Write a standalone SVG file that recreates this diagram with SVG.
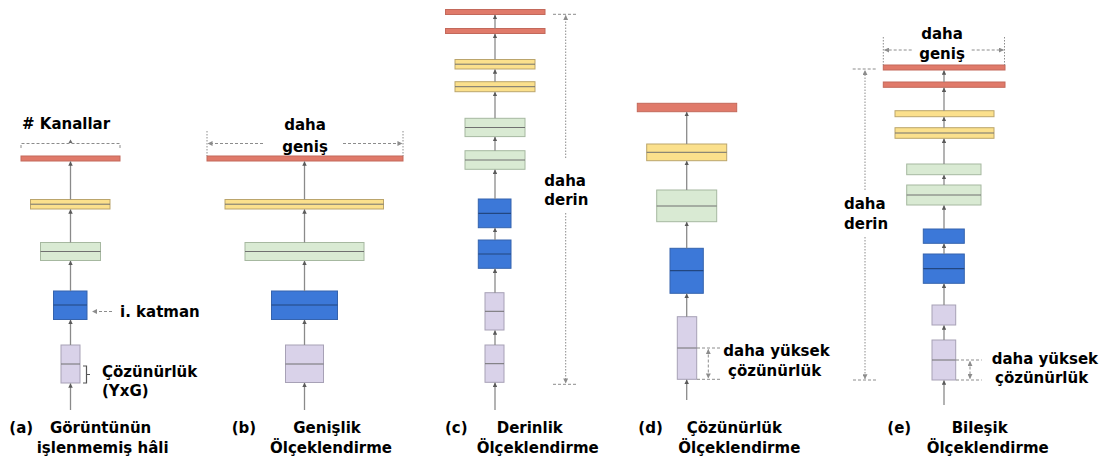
<svg xmlns="http://www.w3.org/2000/svg" width="1108" height="457" viewBox="0 0 1108 457">
  <defs>
    <marker id="tip" viewBox="0 0 6 6" refX="5.5" refY="3" markerWidth="4.5" markerHeight="4.5" orient="auto" markerUnits="userSpaceOnUse">
      <path d="M0,0 L6,3 L0,6 z" fill="#5a5a5a"/>
    </marker>
    <marker id="tipLight" viewBox="0 0 6 6" refX="5.5" refY="3" markerWidth="5" markerHeight="5" orient="auto-start-reverse" markerUnits="userSpaceOnUse">
      <path d="M0,0 L6,3 L0,6 z" fill="#8c8c8c"/>
    </marker>
  </defs>
  <style>
    rect { stroke-width: 1; }
    .red { fill: #e07a6a; stroke: #c3695b; }
    .yel { fill: #fbe08c; stroke: #bba56c; }
    .grn { fill: #d9ead3; stroke: #a6b8a0; }
    .blu { fill: #3c78d8; stroke: #3563ad; }
    .pur { fill: #d9d2e9; stroke: #a7a1b6; }
    .mid { stroke: #707070; stroke-width: 1; fill: none; }
    .midb { stroke: #22467f; stroke-width: 1.2; fill: none; }
    .conn line { stroke: #8a8a8a; stroke-width: 1.3; marker-end: url(#tip); }
    .dash { stroke: #8c8c8c; stroke-width: 1; stroke-dasharray: 3 2; fill: none; }
    .dot { stroke: #8c8c8c; stroke-width: 1; stroke-dasharray: 1.5 1.5; fill: none; }
    .lbl { font-family: "DejaVu Sans", Verdana, sans-serif; font-weight: bold; font-size: 15px; fill: #000; }
  </style>

  <!-- (a) baseline network -->
  <g id="col-a">
    <rect class="red" x="21" y="156" width="99" height="5"/>
    <rect class="yel" x="30.5" y="199.5" width="79.5" height="9.5"/>
    <line class="mid" x1="30.5" y1="204.2" x2="110" y2="204.2"/>
    <rect class="grn" x="40.5" y="242.5" width="60" height="18"/>
    <line class="mid" x1="40.5" y1="251.5" x2="100.5" y2="251.5"/>
    <rect class="blu" x="53.5" y="291" width="33.5" height="28.5"/>
    <line class="midb" x1="53.5" y1="305" x2="87" y2="305"/>
    <rect class="pur" x="61" y="345" width="19" height="38"/>
    <line class="mid" x1="61" y1="364" x2="80" y2="364"/>
  </g>

  <!-- (b) wider -->
  <g id="col-b">
    <rect class="red" x="207" y="156" width="196" height="5"/>
    <rect class="yel" x="225" y="199.5" width="158.5" height="9.5"/>
    <line class="mid" x1="225" y1="204.2" x2="383.5" y2="204.2"/>
    <rect class="grn" x="245" y="242.5" width="119" height="18"/>
    <line class="mid" x1="245" y1="251.5" x2="364" y2="251.5"/>
    <rect class="blu" x="271.5" y="291" width="66" height="28.5"/>
    <line class="midb" x1="271.5" y1="305" x2="337.5" y2="305"/>
    <rect class="pur" x="285.5" y="345" width="38" height="37.5"/>
    <line class="mid" x1="285.5" y1="364" x2="323.5" y2="364"/>
  </g>

  <!-- (c) deeper -->
  <g id="col-c">
    <rect class="red" x="445.5" y="9.5" width="99.5" height="5"/>
    <rect class="red" x="445.5" y="28.5" width="99.5" height="5"/>
    <rect class="yel" x="455" y="59.5" width="80" height="9.5"/>
    <line class="mid" x1="455" y1="64.2" x2="535" y2="64.2"/>
    <rect class="yel" x="455" y="81.7" width="80" height="10"/>
    <line class="mid" x1="455" y1="86.7" x2="535" y2="86.7"/>
    <rect class="grn" x="465" y="118.3" width="60" height="18.3"/>
    <line class="mid" x1="465" y1="127.5" x2="525" y2="127.5"/>
    <rect class="grn" x="465" y="150.7" width="60" height="18.6"/>
    <line class="mid" x1="465" y1="160" x2="525" y2="160"/>
    <rect class="blu" x="478.3" y="199" width="32.7" height="28.7"/>
    <line class="midb" x1="478.3" y1="213.3" x2="511" y2="213.3"/>
    <rect class="blu" x="478.3" y="240" width="32.7" height="28.3"/>
    <line class="midb" x1="478.3" y1="254" x2="511" y2="254"/>
    <rect class="pur" x="485" y="292.7" width="19" height="37.3"/>
    <line class="mid" x1="485" y1="311.3" x2="504" y2="311.3"/>
    <rect class="pur" x="485" y="345" width="19" height="37.3"/>
    <line class="mid" x1="485" y1="363.7" x2="504" y2="363.7"/>
  </g>

  <!-- (d) higher resolution -->
  <g id="col-d">
    <rect class="red" x="637.3" y="103.3" width="99.4" height="8.4"/>
    <rect class="yel" x="646.7" y="144" width="80" height="16.7"/>
    <line class="mid" x1="646.7" y1="152.3" x2="726.7" y2="152.3"/>
    <rect class="grn" x="656.7" y="190" width="60" height="31.7"/>
    <line class="mid" x1="656.7" y1="206" x2="716.7" y2="206"/>
    <rect class="blu" x="670" y="248.3" width="33.3" height="45"/>
    <line class="midb" x1="670" y1="270.7" x2="703.3" y2="270.7"/>
    <rect class="pur" x="677.3" y="316.7" width="19.4" height="62.6"/>
    <line class="mid" x1="677.3" y1="348" x2="696.7" y2="348"/>
  </g>

  <!-- (e) compound -->
  <g id="col-e">
    <rect class="red" x="883.3" y="65" width="121.7" height="5"/>
    <rect class="red" x="883.3" y="82" width="121.7" height="5.3"/>
    <rect class="yel" x="895" y="110.7" width="99" height="6"/>
    <rect class="yel" x="895" y="127.7" width="99" height="10.6"/>
    <line class="mid" x1="895" y1="133" x2="994" y2="133"/>
    <rect class="grn" x="906.7" y="164" width="74.3" height="10.7"/>
    <rect class="grn" x="906.7" y="185" width="74.3" height="20"/>
    <line class="mid" x1="906.7" y1="195" x2="981" y2="195"/>
    <rect class="blu" x="923.3" y="229" width="41" height="14.3"/>
    <rect class="blu" x="923.3" y="254" width="41" height="29.3"/>
    <line class="midb" x1="923.3" y1="268.7" x2="964.3" y2="268.7"/>
    <rect class="pur" x="932" y="305" width="23.7" height="20"/>
    <rect class="pur" x="932" y="340" width="23.7" height="40"/>
    <line class="mid" x1="932" y1="360" x2="955.7" y2="360"/>
  </g>

  <!-- data flow between layers -->
  <g id="connectors" class="conn">
    <line x1="70.5" y1="410" x2="70.5" y2="383.5"/>
    <line x1="70.5" y1="345" x2="70.5" y2="320"/>
    <line x1="70.5" y1="291" x2="70.5" y2="261"/>
    <line x1="70.5" y1="242.5" x2="70.5" y2="209.5"/>
    <line x1="70.5" y1="199.5" x2="70.5" y2="161.5"/>

    <line x1="304.5" y1="410" x2="304.5" y2="383"/>
    <line x1="304.5" y1="345" x2="304.5" y2="320"/>
    <line x1="304.5" y1="291" x2="304.5" y2="261"/>
    <line x1="304.5" y1="242.5" x2="304.5" y2="209.5"/>
    <line x1="304.5" y1="199.5" x2="304.5" y2="161.5"/>

    <line x1="495" y1="410" x2="495" y2="382.8"/>
    <line x1="495" y1="345" x2="495" y2="330.5"/>
    <line x1="495" y1="292.7" x2="495" y2="268.8"/>
    <line x1="495" y1="240" x2="495" y2="228.2"/>
    <line x1="495" y1="199" x2="495" y2="169.8"/>
    <line x1="495" y1="150.7" x2="495" y2="137.1"/>
    <line x1="495" y1="118.3" x2="495" y2="92.2"/>
    <line x1="495" y1="81.7" x2="495" y2="69.5"/>
    <line x1="495" y1="59.5" x2="495" y2="34"/>
    <line x1="495" y1="28.5" x2="495" y2="15"/>

    <line x1="686.7" y1="400" x2="686.7" y2="379.8"/>
    <line x1="686.7" y1="316.7" x2="686.7" y2="293.8"/>
    <line x1="686.7" y1="248.3" x2="686.7" y2="222.2"/>
    <line x1="686.7" y1="190" x2="686.7" y2="161.2"/>
    <line x1="686.7" y1="144" x2="686.7" y2="112.2"/>

    <line x1="944" y1="405" x2="944" y2="380.5"/>
    <line x1="944" y1="340" x2="944" y2="325.5"/>
    <line x1="944" y1="305" x2="944" y2="283.8"/>
    <line x1="944" y1="254" x2="944" y2="243.8"/>
    <line x1="944" y1="229" x2="944" y2="205.5"/>
    <line x1="944" y1="185" x2="944" y2="175.2"/>
    <line x1="944" y1="164" x2="944" y2="138.8"/>
    <line x1="944" y1="127.7" x2="944" y2="117.2"/>
    <line x1="944" y1="110.7" x2="944" y2="87.8"/>
    <line x1="944" y1="82" x2="944" y2="70.5"/>
  </g>

  <!-- annotations: channel bracket, layer pointer, resolution brace -->
  <g id="notes-a">
    <path class="dash" d="M21,148 V143.5 H120 V148"/>
    <path d="M68.5,143 L70.5,139.5 L72.5,143 z" fill="#6a6a6a"/>
    <text class="lbl" x="22" y="129">
      # Kanallar</text>
    <line class="dash" x1="112" y1="311.5" x2="92.5" y2="311.5" marker-end="url(#tipLight)"/>
    <text class="lbl" x="120" y="317">i. katman</text>
    <path d="M83,366 H86.5 V383 H83 M86.5,374.5 H90" fill="none" stroke="#555" stroke-width="1.2"/>
    <text class="lbl" x="102" y="377">Çözünürlük</text>
    <text class="lbl" x="102" y="396">(YxG)</text>
  </g>

  <!-- width annotation -->
  <g id="notes-b">
    <line class="dot" x1="207" y1="131" x2="207" y2="156"/>
    <line class="dot" x1="403" y1="131" x2="403" y2="156"/>
    <line class="dash" x1="263" y1="143.5" x2="208" y2="143.5" marker-end="url(#tipLight)"/>
    <line class="dash" x1="343" y1="143.5" x2="402" y2="143.5" marker-end="url(#tipLight)"/>
    <text class="lbl" x="305" y="130" text-anchor="middle">daha</text>
    <text class="lbl" x="305" y="151.5" text-anchor="middle">geniş</text>
  </g>

  <!-- depth annotation -->
  <g id="notes-c">
    <line class="dash" x1="553" y1="14.3" x2="577" y2="14.3"/>
    <line class="dash" x1="553" y1="384.3" x2="578" y2="384.3"/>
    <line class="dot" x1="565.7" y1="158" x2="565.7" y2="15.5" marker-end="url(#tipLight)"/>
    <line class="dot" x1="565.7" y1="213" x2="565.7" y2="383" marker-end="url(#tipLight)"/>
    <text class="lbl" x="544.3" y="185.5">daha</text>
    <text class="lbl" x="544.3" y="205">derin</text>
  </g>

  <!-- resolution annotation -->
  <g id="notes-d">
    <line class="dash" x1="697" y1="348" x2="722" y2="348"/>
    <line class="dash" x1="697" y1="379.3" x2="722" y2="379.3"/>
    <line class="dash" x1="708.3" y1="349.5" x2="708.3" y2="378" marker-start="url(#tipLight)" marker-end="url(#tipLight)"/>
    <text class="lbl" x="723.3" y="356">daha yüksek</text>
    <text class="lbl" x="728" y="376">çözünürlük</text>
  </g>

  <!-- compound annotations -->
  <g id="notes-e">
    <line class="dot" x1="883.3" y1="37" x2="883.3" y2="65"/>
    <line class="dot" x1="1004.5" y1="37" x2="1004.5" y2="65"/>
    <line class="dash" x1="911.7" y1="50" x2="884.5" y2="50" marker-end="url(#tipLight)"/>
    <line class="dash" x1="971.7" y1="50" x2="1003.5" y2="50" marker-end="url(#tipLight)"/>
    <text class="lbl" x="942" y="38.5" text-anchor="middle">daha</text>
    <text class="lbl" x="942" y="58.5" text-anchor="middle">geniş</text>

    <line class="dash" x1="852.7" y1="69" x2="876.7" y2="69"/>
    <line class="dash" x1="853" y1="380" x2="878" y2="380"/>
    <line class="dot" x1="865" y1="190" x2="865" y2="70.5" marker-end="url(#tipLight)"/>
    <line class="dot" x1="865" y1="237" x2="865" y2="378.8" marker-end="url(#tipLight)"/>
    <text class="lbl" x="844" y="209">daha</text>
    <text class="lbl" x="844" y="229">derin</text>

    <line class="dash" x1="956" y1="360" x2="981.7" y2="360"/>
    <line class="dash" x1="956" y1="380" x2="981.7" y2="380"/>
    <line class="dash" x1="970" y1="361.5" x2="970" y2="378.5" marker-start="url(#tipLight)" marker-end="url(#tipLight)"/>
    <text class="lbl" x="991.7" y="363.5">daha yüksek</text>
    <text class="lbl" x="995" y="383">çözünürlük</text>
  </g>

  <!-- panel captions -->
  <g id="captions" class="lbl">
    <text x="9.3" y="433">(a)</text>
    <text x="50" y="433">Görüntünün</text>
    <text x="36.7" y="453">işlenmemiş hâli</text>

    <text x="231.7" y="433">(b)</text>
    <text x="293.3" y="433">Genişlik</text>
    <text x="270" y="453">Ölçeklendirme</text>

    <text x="445" y="433">(c)</text>
    <text x="496.7" y="433">Derinlik</text>
    <text x="476.7" y="453">Ölçeklendirme</text>

    <text x="638.3" y="433">(d)</text>
    <text x="686.7" y="433">Çözünürlük</text>
    <text x="678.3" y="453">Ölçeklendirme</text>

    <text x="887.3" y="433">(e)</text>
    <text x="951.7" y="433">Bileşik</text>
    <text x="926.7" y="453">Ölçeklendirme</text>
  </g>
</svg>
